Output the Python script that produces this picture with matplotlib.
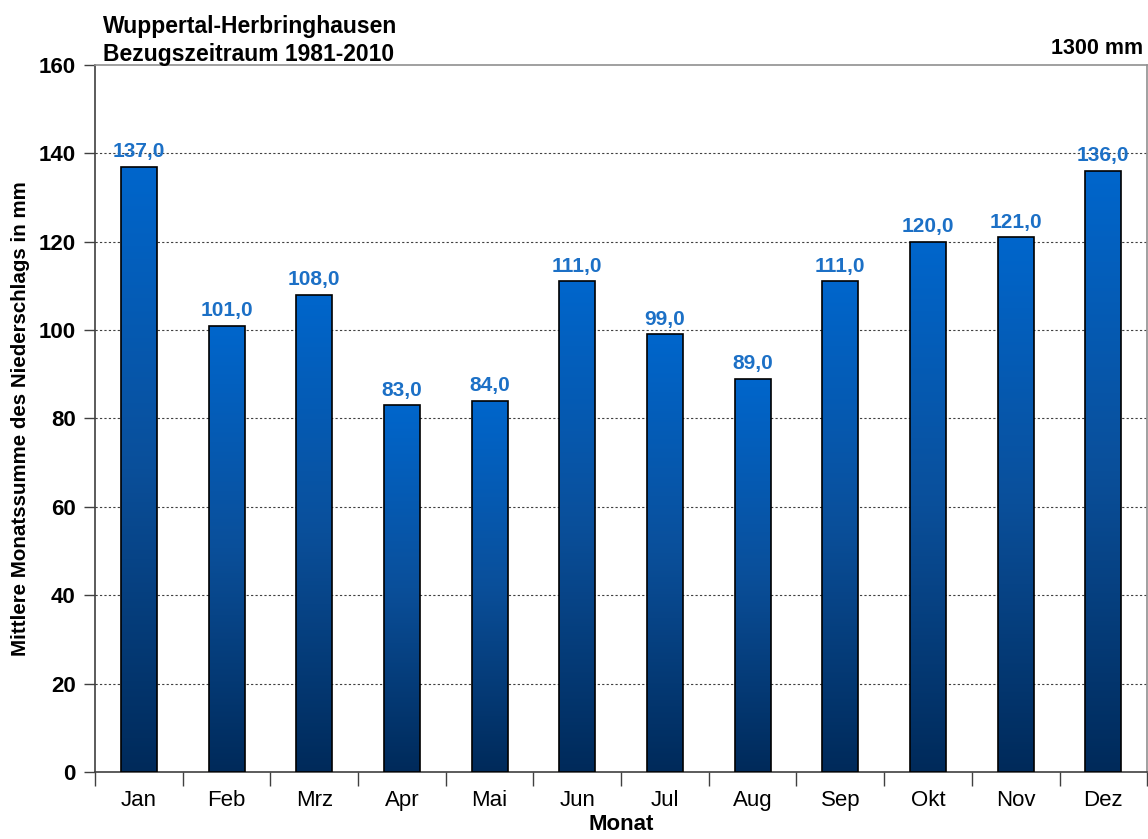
import numpy as np
import matplotlib.pyplot as plt
from matplotlib.colors import LinearSegmentedColormap
from matplotlib.patches import Rectangle

monate = ['Jan', 'Feb', 'Mrz', 'Apr', 'Mai', 'Jun', 'Jul', 'Aug', 'Sep', 'Okt', 'Nov', 'Dez']
niederschlag = [137.0, 101.0, 108.0, 83.0, 84.0, 111.0, 99.0, 89.0, 111.0, 120.0, 121.0, 136.0]
jahressumme = '1300 mm'
station = 'Wuppertal-Herbringhausen'
zeitraum = 'Bezugszeitraum 1981-2010'

plt.rcParams['font.family'] = ['Liberation Sans', 'DejaVu Sans']

fig = plt.figure(figsize=(11.48, 8.39), dpi=100)
ax = fig.add_axes([0.0828, 0.0799, 0.9165, 0.8428])

cmap = LinearSegmentedColormap.from_list('blau', ['#002a5a', '#0a4f9a', '#0066cc'])
grad = np.linspace(0, 1, 256).reshape(-1, 1)
breite = 0.41

x = np.arange(len(monate))
for xi, wert in zip(x, niederschlag):
    x0 = xi - breite / 2
    im = ax.imshow(grad, cmap=cmap, aspect='auto', origin='lower',
                   extent=(x0, x0 + breite, 0, wert), zorder=3)
    rect = Rectangle((x0, 0), breite, wert, facecolor='none',
                     edgecolor='black', linewidth=1.2, zorder=4)
    ax.add_patch(rect)
    im.set_clip_path(rect)
    ax.annotate(f'{wert:.1f}'.replace('.', ','), (xi, wert), xytext=(0, 4),
                textcoords='offset points', ha='center', va='bottom',
                color='#1c70c6', fontsize=15, fontweight='bold', zorder=5)

ax.set_xlim(-0.5, len(monate) - 0.5)
ax.set_ylim(0, 160)
ax.set_yticks(range(0, 161, 20))
ax.set_xticks(x)
ax.set_xticklabels(monate, fontsize=16)
ax.set_xticks(np.arange(-0.5, len(monate), 1), minor=True)
ax.tick_params(axis='x', which='major', length=0, pad=13)
ax.tick_params(axis='x', which='minor', length=10, width=1, color='#404040', direction='out')
ax.tick_params(axis='y', length=8, width=1, color='#404040', labelsize=16, pad=6)
for lab in ax.get_yticklabels():
    lab.set_fontweight('bold')

for yv in range(20, 160, 20):
    ax.axhline(yv, color='#404040', linestyle=(0, (2, 2)), linewidth=0.8, zorder=1)

ax.spines['left'].set_color('#404040')
ax.spines['bottom'].set_color('#404040')
ax.spines['top'].set_color('#909090')
ax.spines['right'].set_color('#909090')
for s in ax.spines.values():
    s.set_linewidth(1.2)

ax.set_ylabel('Mittlere Monatssumme des Niederschlags in mm', fontsize=14.8,
              fontweight='bold', labelpad=6)
ax.set_xlabel('Monat', fontsize=16, fontweight='bold', labelpad=2)

fig.text(103 / 1148, 1 - 27 / 839, station, fontsize=16.5, fontweight='bold', va='center')
fig.text(103 / 1148, 1 - 54 / 839, zeitraum, fontsize=16.5, fontweight='bold', va='center')
fig.text(1143 / 1148, 1 - 48 / 839, jahressumme, fontsize=15.5, fontweight='bold',
         va='center', ha='right')

fig.savefig('out.png', dpi=100)
